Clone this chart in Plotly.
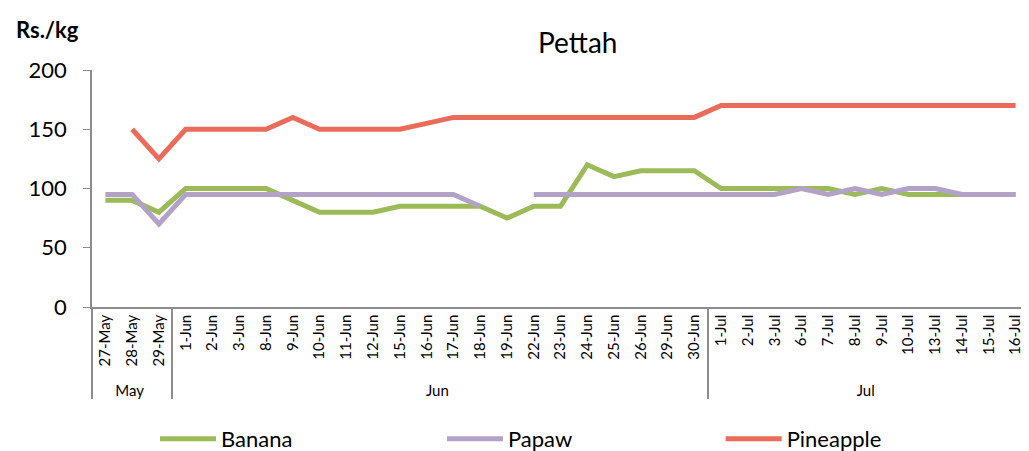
import plotly.graph_objects as go

months = ["May"] * 3 + ["Jun"] * 20 + ["Jul"] * 12
days = ["27-May", "28-May", "29-May",
        "1-Jun", "2-Jun", "3-Jun", "8-Jun", "9-Jun", "10-Jun", "11-Jun", "12-Jun",
        "15-Jun", "16-Jun", "17-Jun", "18-Jun", "19-Jun", "22-Jun", "23-Jun",
        "24-Jun", "25-Jun", "26-Jun", "29-Jun", "30-Jun",
        "1-Jul", "2-Jul", "3-Jul", "6-Jul", "7-Jul", "8-Jul", "9-Jul", "10-Jul",
        "13-Jul", "14-Jul", "15-Jul", "16-Jul"]

banana = [90, 90, 80,
          100, 100, 100, 100, 90, 80, 80, 80, 85, 85, 85, 85, 75, 85, 85,
          120, 110, 115, 115, 115,
          100, 100, 100, 100, 100, 95, 100, 95, 95, 95, 95, 95]
papaw = [95, 95, 70,
         95, 95, 95, 95, 95, 95, 95, 95, 95, 95, 95, 85, None, 95, 95,
         95, 95, 95, 95, 95,
         95, 95, 95, 100, 95, 100, 95, 100, 100, 95, 95, 95]
pineapple = [None, 150, 125,
             150, 150, 150, 150, 160, 150, 150, 150, 150, 155, 160, 160, 160, 160, 160,
             160, 160, 160, 160, 160,
             170, 170, 170, 170, 170, 170, 170, 170, 170, 170, 170, 170]

font = "Lato"
# page body adds an 8px margin, so the figure is a bit smaller than the window
series = [("Banana", banana, "#9BBB59", "legend", 0.144),
          ("Papaw", papaw, "#B3A2C7", "legend2", 0.425),
          ("Pineapple", pineapple, "#EB6B5A", "legend3", 0.698)]

fig = go.Figure()
legends = {}
for name, vals, col, lg, lx in series:
    fig.add_trace(go.Scatter(x=[months, days], y=vals, name=name, mode="lines",
                             line=dict(color=col, width=5), connectgaps=False,
                             legend=lg))
    legends[lg] = dict(orientation="h", xref="container", yref="container",
                       x=lx, xanchor="left", y=0.027, yanchor="middle",
                       font=dict(size=22), itemwidth=56, bgcolor="rgba(0,0,0,0)")

fig.update_layout(
    width=1021, height=443,
    margin=dict(l=84, r=0, t=62, b=144),
    plot_bgcolor="white", paper_bgcolor="white",
    font=dict(family=font, color="black"),
    title=dict(text="Pettah", x=0.558, xanchor="center", y=0.921, yanchor="middle",
               font=dict(size=28, family=font)),
    showlegend=True,
    annotations=[dict(text="<b>Rs./kg</b>", xref="paper", yref="paper", x=-0.083, y=1.169,
                      xanchor="left", yanchor="middle", showarrow=False,
                      font=dict(size=22, family=font))],
    **legends,
)
fig.update_yaxes(range=[0, 200], dtick=50, showgrid=False, zeroline=False,
                 showline=True, linecolor="#8c8c8c", linewidth=1.5, automargin=False,
                 ticks="outside", ticklen=7, tickcolor="#8c8c8c", ticklabelstandoff=12,
                 tickfont=dict(size=22, family=font))
fig.update_xaxes(type="multicategory", range=[-0.5, len(days) - 0.5],
                 showgrid=False, showline=True, automargin=False,
                 linecolor="#8c8c8c", linewidth=1.5, tickangle=-90,
                 tickfont=dict(size=15, family=font),
                 showdividers=True, dividercolor="#8c8c8c", dividerwidth=1.5)

fig.write_html("out.html")
